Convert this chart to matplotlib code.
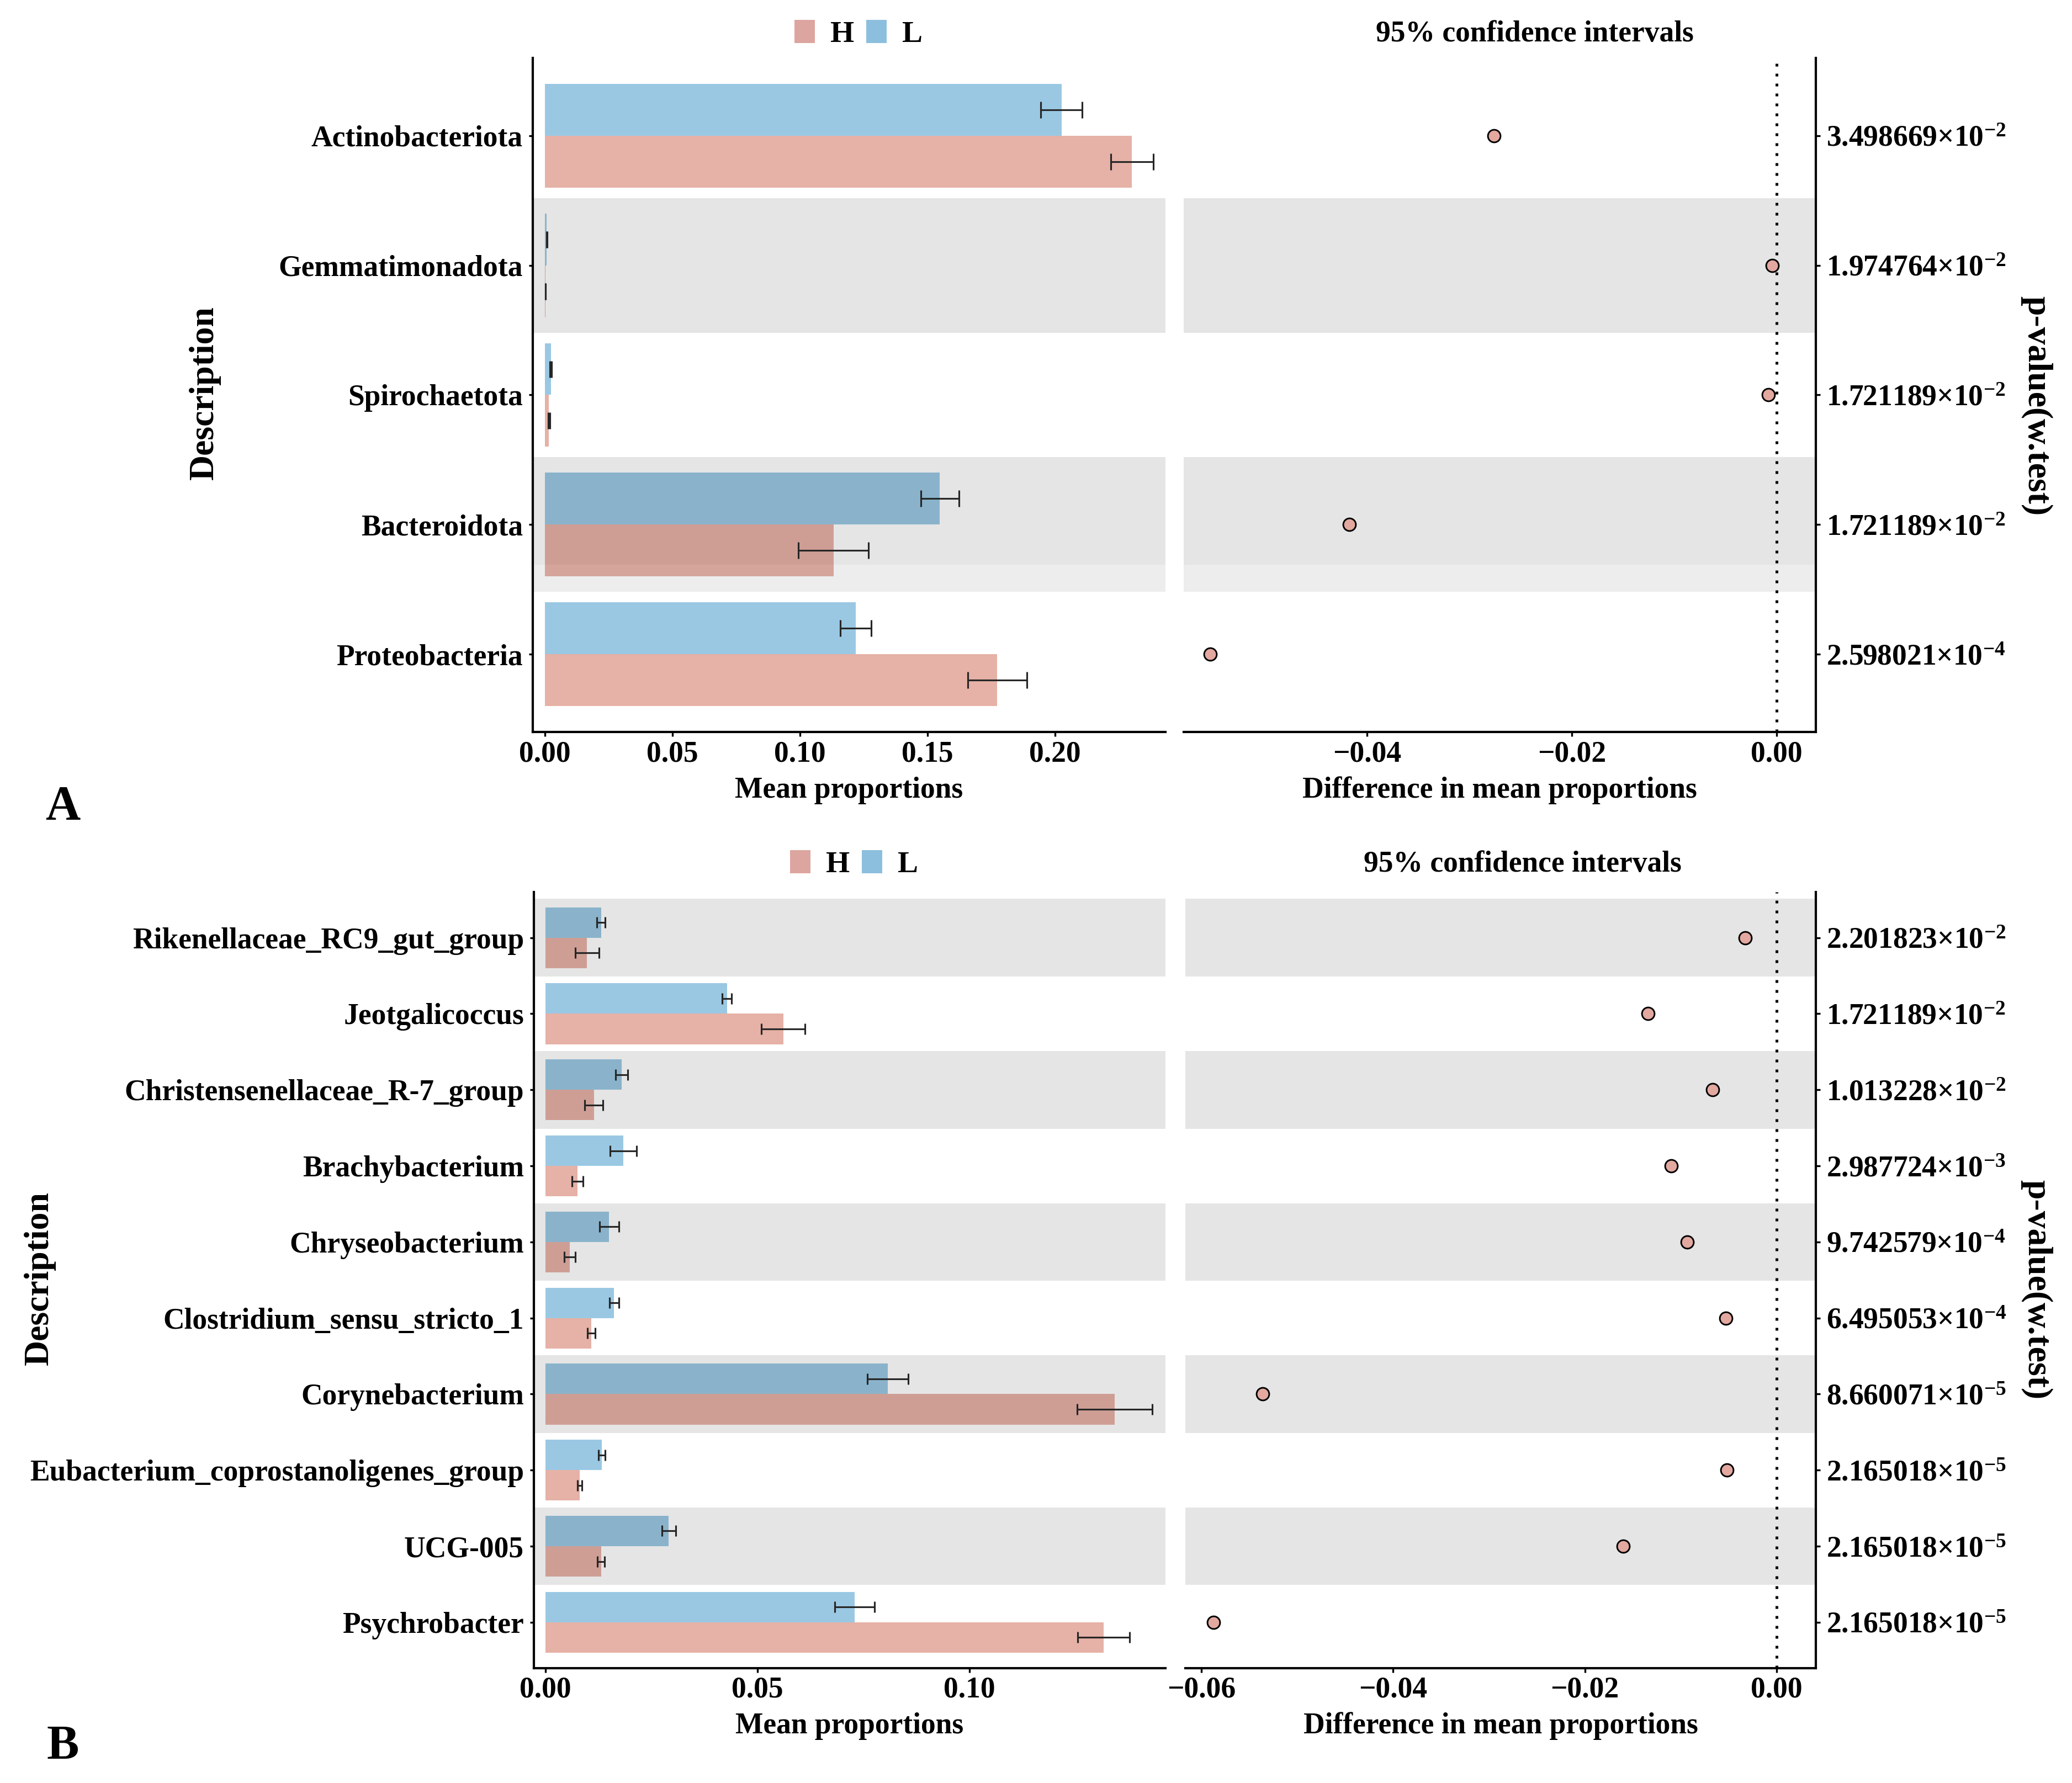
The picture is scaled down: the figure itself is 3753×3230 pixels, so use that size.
import matplotlib
matplotlib.use('Agg')
import matplotlib.pyplot as plt
from matplotlib.patches import Patch
import numpy as np

plt.rcParams['font.family'] = ['Liberation Serif', 'DejaVu Serif']
plt.rcParams['font.weight'] = 'bold'
plt.rcParams['mathtext.fontset'] = 'custom'
plt.rcParams['mathtext.rm'] = 'Liberation Serif:bold'
plt.rcParams['mathtext.bf'] = 'Liberation Serif:bold'
plt.rcParams['mathtext.it'] = 'Liberation Serif:bold:italic'

# ---------------- data ----------------
groups = ['H', 'L']

A_taxa = ['Actinobacteriota', 'Gemmatimonadota', 'Spirochaetota', 'Bacteroidota', 'Proteobacteria']
A_H_mean = [0.2301, 0.0003, 0.0016, 0.1131, 0.1773]
A_H_err = [0.0083, 0.00005, 0.0003, 0.0137, 0.0116]
A_L_mean = [0.2025, 0.0008, 0.0024, 0.1548, 0.1218]
A_L_err = [0.0081, 0.0001, 0.0003, 0.0074, 0.0061]
A_diff = [-0.0276, -0.00045, -0.0008, -0.0417, -0.0553]
A_pval = ['3.498669{\\times}10^{-2}', '1.974764{\\times}10^{-2}', '1.721189{\\times}10^{-2}',
          '1.721189{\\times}10^{-2}', '2.598021{\\times}10^{-4}']
A_xticks_mean = [0.00, 0.05, 0.10, 0.15, 0.20]
A_xticks_diff = [-0.04, -0.02, 0.00]

B_taxa = ['Rikenellaceae_RC9_gut_group', 'Jeotgalicoccus', 'Christensenellaceae_R-7_group',
          'Brachybacterium', 'Chryseobacterium', 'Clostridium_sensu_stricto_1',
          'Corynebacterium', 'Eubacterium_coprostanoligenes_group', 'UCG-005', 'Psychrobacter']
B_H_mean = [0.0098, 0.0561, 0.0114, 0.0075, 0.0057, 0.0108, 0.1343, 0.0081, 0.0131, 0.1317]
B_H_err = [0.0028, 0.0051, 0.0021, 0.0013, 0.0013, 0.0009, 0.0089, 0.0005, 0.0009, 0.0061]
B_L_mean = [0.0131, 0.0428, 0.0180, 0.0184, 0.0150, 0.0162, 0.0808, 0.0133, 0.0291, 0.0730]
B_L_err = [0.0010, 0.0011, 0.0014, 0.0031, 0.0023, 0.0011, 0.0048, 0.0008, 0.0016, 0.0047]
B_diff = [-0.0033, -0.0134, -0.0067, -0.0110, -0.0093, -0.0053, -0.0536, -0.0052, -0.0160, -0.0587]
B_pval = ['2.201823{\\times}10^{-2}', '1.721189{\\times}10^{-2}', '1.013228{\\times}10^{-2}',
          '2.987724{\\times}10^{-3}', '9.742579{\\times}10^{-4}', '6.495053{\\times}10^{-4}',
          '8.660071{\\times}10^{-5}', '2.165018{\\times}10^{-5}', '2.165018{\\times}10^{-5}',
          '2.165018{\\times}10^{-5}']
B_xticks_mean = [0.00, 0.05, 0.10]
B_xticks_diff = [-0.06, -0.04, -0.02, 0.00]

# ---------------- style ----------------
C_H = '#E6B1A6'
C_L = '#9AC8E3'
C_H_leg = '#DDA59F'
C_L_leg = '#8CBFDD'
C_PT = '#E3A89F'
FS = 12.85
W, Hh = 3753, 3230
fig = plt.figure(figsize=(W / 300, Hh / 300), dpi=300)


def fx(px):
    return px / W


def fy(py):
    return 1 - py / Hh


def rect(l, t, r, b):
    return [fx(l), fy(b), (r - l) / W, (b - t) / Hh]


def fmt(v):
    return ('%.2f' % v).replace('-', '\u2212')


def panel(axL, axR, taxa, hm, he, lm, le, diff, pv, xlimL, xlimR, xtL, xtR,
          half, cap, label_off_L, label_off_R, special=None):
    n = len(taxa)
    y = np.arange(n, 0, -1).astype(float)
    # bars
    axL.barh(y - 0.2, hm, height=0.4, color=C_H, zorder=2, linewidth=0)
    axL.barh(y + 0.2, lm, height=0.4, color=C_L, zorder=2, linewidth=0)
    axL.errorbar(hm, y - 0.2, xerr=he, fmt='none', ecolor='#262626', elinewidth=0.75,
                 capsize=cap, capthick=0.75, zorder=5)
    axL.errorbar(lm, y + 0.2, xerr=le, fmt='none', ecolor='#262626', elinewidth=0.75,
                 capsize=cap, capthick=0.75, zorder=5)
    # bands
    for yy in y:
        if int(yy) % 2 == 0:
            for ax in (axL, axR):
                if special is not None and int(yy) == special:
                    ax.axhspan(yy - 0.31, yy + half, color='black', alpha=0.1, lw=0, zorder=3)
                    ax.axhspan(yy - half, yy - 0.31, color='black', alpha=0.07, lw=0, zorder=3)
                else:
                    ax.axhspan(yy - half, yy + half, color='black', alpha=0.1, lw=0, zorder=3)
    # points
    axR.axvline(0, color='black', lw=1.2, linestyle=(0, (1, 2.6)), zorder=4)
    axR.scatter(diff, y, s=30, color=C_PT, edgecolor='black', linewidth=0.7, zorder=6)

    axL.set_xlim(*xlimL)
    axR.set_xlim(*xlimR)
    for ax in (axL, axR):
        ax.set_ylim(0.4, n + 0.6)
        ax.set_facecolor('none')
    axL.set_yticks(y)
    axL.set_yticklabels(taxa)
    axL.set_xticks(xtL)
    axL.set_xticklabels([fmt(v) for v in xtL])
    axR.set_xticks(xtR)
    axR.set_xticklabels([fmt(v) for v in xtR])
    axR.yaxis.tick_right()
    axR.set_yticks(y)
    axR.set_yticklabels(['$\\mathbf{%s}$' % p for p in pv])

    for sp in ['top', 'right']:
        axL.spines[sp].set_visible(False)
    for sp in ['top', 'left']:
        axR.spines[sp].set_visible(False)
    for ax in (axL, axR):
        for sp in ax.spines.values():
            sp.set_linewidth(1.0)
        ax.tick_params(axis='both', length=1.8, width=0.8, labelsize=FS, colors='black')
        ax.tick_params(axis='x', pad=1.8)
    axL.tick_params(axis='y', pad=2.5)
    axR.tick_params(axis='y', left=False, right=True, pad=2.7)

    axL.set_xlabel('Mean proportions', fontsize=FS, fontweight='bold')
    axR.set_xlabel('Difference in mean proportions', fontsize=FS, fontweight='bold')
    axL.xaxis.set_label_coords(0.5, label_off_L)
    axR.xaxis.set_label_coords(0.5, label_off_R)
    axL.xaxis.label.set_va('center')
    axR.xaxis.label.set_va('center')
    return y


# Panel A
axA1 = fig.add_axes(rect(965, 105, 2111, 1326))
axA2 = fig.add_axes(rect(2144, 105, 3289, 1326))
panel(axA1, axA2, A_taxa, A_H_mean, A_H_err, A_L_mean, A_L_err, A_diff, A_pval,
      (-0.0047, 0.2432), (-0.0579, 0.00383), A_xticks_mean, A_xticks_diff,
      0.52, 3.6, -106 / 1221, -106 / 1221, special=2)

# Panel B
axB1 = fig.add_axes(rect(967, 1616, 2111, 3021.5))
axB2 = fig.add_axes(rect(2147, 1616, 3289, 3021.5))
panel(axB1, axB2, B_taxa, B_H_mean, B_H_err, B_L_mean, B_L_err, B_diff, B_pval,
      (-0.00274, 0.1463), (-0.06166, 0.00409), B_xticks_mean, B_xticks_diff,
      0.51, 2.4, -105 / 1405.5, -105 / 1405.5)

# y labels
for ax, xc, yc in [(axA1, 371, 712), (axB1, 72, 2316)]:
    fig.text(fx(xc), fy(yc), 'Description', rotation=90, ha='center', va='center',
             fontsize=15.3, fontweight='bold')
for yc in (735, 2336):
    fig.text(fx(3688), fy(yc), 'p-value(w.test)', rotation=270, ha='center', va='center',
             fontsize=15.3, fontweight='bold')

# legends and titles
for lx, ly, tx in [(1555, 62, 2780), (1547, 1566, 2758)]:
    handles = [Patch(facecolor=C_H_leg, edgecolor='none', label=groups[0]),
               Patch(facecolor=C_L_leg, edgecolor='none', label=groups[1])]
    leg = fig.legend(handles=handles, loc='center', bbox_to_anchor=(fx(lx), fy(ly)), ncol=2,
                     frameon=False, fontsize=13.3, handlelength=0.67, handleheight=0.8,
                     handletextpad=0.5, columnspacing=0.4, borderpad=0, borderaxespad=0)
    fig.text(fx(tx), fy(ly), '95% confidence intervals', ha='center', va='center',
             fontsize=FS, fontweight='bold')

fig.text(fx(114), fy(1462), 'A', ha='center', va='center', fontsize=21, fontweight='bold')
fig.text(fx(114), fy(3164), 'B', ha='center', va='center', fontsize=21, fontweight='bold')

fig.savefig('out.png', dpi=300)
